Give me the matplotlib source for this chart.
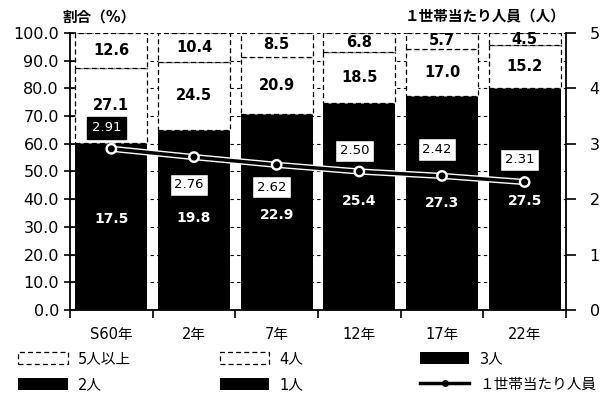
import matplotlib
matplotlib.use("Agg")
import matplotlib.pyplot as plt
import matplotlib.patheffects as pe
from matplotlib.patches import Patch
from matplotlib.lines import Line2D
import numpy as np

plt.rcParams['font.family'] = ['DejaVu Sans', 'Noto Sans CJK JP']

# Household composition share (%) by census year
years = ["S60年", "2年", "7年", "12年", "17年", "22年"]
p5plus = [12.6, 10.4, 8.5, 6.8, 5.7, 4.5]
p4 = [27.1, 24.5, 20.9, 18.5, 17.0, 15.2]
p3 = [24.0, 23.3, 22.9, 26.6, 25.0, 25.5]
p1 = [17.5, 19.8, 22.9, 25.4, 27.3, 27.5]
p2 = [18.8, 22.0, 24.8, 22.7, 25.0, 27.3]
# Persons per household
persons = [2.91, 2.76, 2.62, 2.50, 2.42, 2.31]
label_dy = [15, -20, -16, 15, 19, 16]

x = np.arange(len(years))
w = 0.87
dash = (0, (4, 2.5))

fig = plt.figure(figsize=(6.05, 3.98), dpi=100)
ax = fig.add_axes([0.1157, 0.2211, 0.8198, 0.696])

# stacked bars
b3 = np.array(p3)
b1 = b3 + np.array(p1)
b2 = b1 + np.array(p2)
b4 = b2 + np.array(p4)

ax.bar(x, p3, w, color="black", zorder=2)
ax.bar(x, p1, w, bottom=b3, color="black", zorder=2)
ax.bar(x, p2, w, bottom=b1, color="black", zorder=2)
ax.bar(x, p4, w, bottom=b2, facecolor="white", edgecolor="black",
       linewidth=0.9, linestyle=dash, zorder=2)
ax.bar(x, p5plus, w, bottom=b4, facecolor="white", edgecolor="black",
       linewidth=0.9, linestyle=dash, zorder=2)

for i in range(len(x)):
    ax.text(x[i], b3[i] + p1[i] / 2, f"{p1[i]:.1f}", ha="center", va="center",
            color="white", fontsize=10, fontweight="bold", zorder=4)
    ax.text(x[i], b2[i] + p4[i] / 2, f"{p4[i]:.1f}", ha="center", va="center",
            color="black", fontsize=10.5, fontweight="bold", zorder=4)
    ax.text(x[i], b4[i] + p5plus[i] / 2, f"{p5plus[i]:.1f}", ha="center",
            va="center", color="black", fontsize=10.5, fontweight="bold", zorder=4)

ax.set_xlim(-0.5, len(x) - 0.5)
ax.set_ylim(0, 100)
ax.set_yticks(np.arange(0, 101, 10))
ax.set_yticklabels([f"{v:.1f}" for v in np.arange(0, 101, 10)], fontsize=11.5)
ax.set_xticks(np.arange(-0.5, len(x), 1.0))
ax.set_xticklabels([])
ax.tick_params(axis="x", length=6, width=1.2, direction="out")
ax.tick_params(axis="y", length=8, width=1.2, direction="inout", pad=4)
for i, yr in enumerate(years):
    ax.text(x[i], -6, yr, ha="center", va="top", fontsize=10.5)
ax.yaxis.grid(True, color="black", linestyle=(0, (3, 3)), linewidth=0.8, zorder=0)
ax.set_axisbelow(True)
for s in ["top", "right"]:
    ax.spines[s].set_visible(False)
ax.spines["left"].set_linewidth(1.3)
ax.spines["bottom"].set_linewidth(1.3)

# persons-per-household line on secondary axis
ax2 = ax.twinx()
ax2.set_ylim(0, 5)
ax2.set_yticks(range(6))
ax2.tick_params(axis="y", length=7, width=1.2, labelsize=11.5, pad=10)
for s in ["top", "left", "bottom"]:
    ax2.spines[s].set_visible(False)
ax2.spines["right"].set_linewidth(1.3)
outline = [pe.Stroke(linewidth=4.5, foreground="white"), pe.Normal()]
ax2.plot(x, persons, color="black", linewidth=2.5, marker="o", markersize=4,
         zorder=5, path_effects=outline)
for i, v in enumerate(persons):
    if i == 0:
        box = dict(boxstyle="square,pad=0.35", facecolor="black", edgecolor="black")
        col = "white"
    else:
        box = dict(boxstyle="square,pad=0.35", facecolor="white", edgecolor="black",
                   linewidth=1)
        col = "black"
    ax2.annotate(f"{v:.2f}", (x[i], v), xytext=(-3.6, label_dy[i]),
                 textcoords="offset points", ha="center", va="center",
                 fontsize=9.5, color=col, bbox=box, zorder=6)

fig.text(0.103, 0.958, "割合（%）", ha="left", va="center", fontsize=10.5,
         fontweight="bold")
fig.text(0.935, 0.958, "１世帯当たり人員（人）", ha="right", va="center",
         fontsize=10.5, fontweight="bold")

# legend, three columns of two rows
white_h = dict(facecolor="white", edgecolor="black", linewidth=0.9, linestyle=dash)
cols = [
    [(Patch(**white_h), "5人以上"), (Patch(facecolor="black"), "2人")],
    [(Patch(**white_h), "4人"), (Patch(facecolor="black"), "1人")],
    [(Patch(facecolor="black"), "3人"),
     (Line2D([], [], color="black", linewidth=2.5, marker="o", markersize=4),
      "１世帯当たり人員")],
]
xs = [0.03, 0.363, 0.694]
for cx, entries in zip(xs, cols):
    fig.legend([e[0] for e in entries], [e[1] for e in entries],
               loc="upper left", bbox_to_anchor=(cx, 0.118), frameon=False,
               handlelength=3.4, handleheight=0.9, handletextpad=0.7,
               labelspacing=0.75, fontsize=10.5, borderaxespad=0,
               borderpad=0)

fig.savefig("out.png", dpi=100)
